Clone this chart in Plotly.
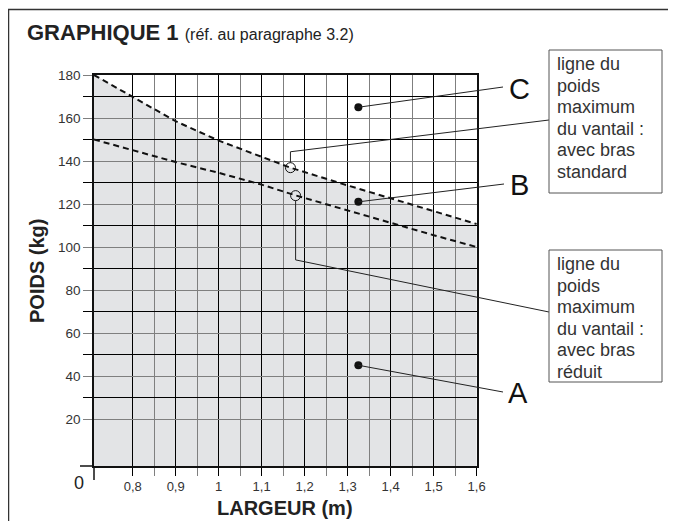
import plotly.graph_objects as go

# ---------------- data ----------------
standard_x = [0.71, 0.8, 0.9, 1.0, 1.1, 1.167, 1.284, 1.4, 1.515, 1.6]
standard_y = [180, 170, 158.5, 149.5, 142, 136.9, 129.6, 122.6, 115.7, 110.7]
reduced_x = [0.71, 0.8, 0.9, 1.0, 1.1, 1.179, 1.3, 1.4, 1.5, 1.6]
reduced_y = [150, 145, 139.5, 134.5, 129, 124, 117, 111, 105.5, 100]

zone_labels = ["C", "B", "A"]
zone_dot_x = [1.325, 1.325, 1.325]
zone_dot_y = [165, 121, 45]

marker_circle_x = [1.167, 1.179]
marker_circle_y = [136.9, 123.9]

x_tick_vals = [0.8, 0.9, 1.0, 1.1, 1.2, 1.3, 1.4, 1.5, 1.6]
x_tick_text = ["0,8", "0,9", "1", "1,1", "1,2", "1,3", "1,4", "1,5", "1,6"]
x_minor_vals = [0.85, 0.95, 1.05, 1.15, 1.25, 1.35, 1.45, 1.55]
y_tick_vals = [20, 40, 60, 80, 100, 120, 140, 160, 180]
y_minor_vals = [30, 50, 70, 90, 110, 130, 150, 170]

box_standard = ["ligne du", "poids", "maximum", "du vantail :", "avec bras", "standard"]
box_reduced = ["ligne du", "poids", "maximum", "du vantail :", "avec bras", "réduit"]

title_main = "GRAPHIQUE 1"
title_sub = "(réf. au paragraphe 3.2)"

# ---------------- layout geometry ----------------
OFF = 8  # page body margin
W, H = 676 - OFF, 521 - OFF
PLOT_L, PLOT_R, PLOT_T, PLOT_B = 94, 477, 75, 466  # window pixels
ML, MR, MT, MB = PLOT_L - OFF, W - (PLOT_R - OFF), PLOT_T - OFF, H - (PLOT_B - OFF)
PW, PH = W - ML - MR, H - MT - MB
XR = [0.71, 1.601]
YR = [-1.86, 180]
FONT = "Liberation Sans, Arial, Helvetica, sans-serif"


def px_x(px):
    return (px - PLOT_L) / PW


def px_y(py):
    return (PLOT_B - py) / PH


def d_x(x):
    return (x - XR[0]) / (XR[1] - XR[0])


def d_y(y):
    return (y - YR[0]) / (YR[1] - YR[0])


fig = go.Figure()

# fill under the standard line (below grid)
path = f"M {standard_x[0]},{YR[0]} " + " ".join(
    f"L {x},{y}" for x, y in zip(standard_x, standard_y)) + f" L {standard_x[-1]},{YR[0]} Z"
shapes = [dict(type="path", path=path, xref="x", yref="y", layer="below",
               fillcolor="#e3e4e6", line=dict(width=0))]

fig.add_trace(go.Scatter(x=standard_x, y=standard_y, mode="lines",
                         line=dict(color="#111", width=2, dash="6px,4px"),
                         hoverinfo="skip", showlegend=False))
fig.add_trace(go.Scatter(x=reduced_x, y=reduced_y, mode="lines",
                         line=dict(color="#111", width=2, dash="6px,4px"),
                         hoverinfo="skip", showlegend=False))
fig.add_trace(go.Scatter(x=zone_dot_x, y=zone_dot_y, mode="markers",
                         marker=dict(color="#111", size=8),
                         hoverinfo="skip", showlegend=False, cliponaxis=False))
fig.add_trace(go.Scatter(x=marker_circle_x, y=marker_circle_y, mode="markers",
                         marker=dict(symbol="circle-open", color="#111", size=10,
                                     line=dict(width=1)),
                         hoverinfo="skip", showlegend=False, cliponaxis=False))

line_style = dict(color="#222", width=1)

# leader lines from dots to letters
label_end_px = [(503, 87), (504, 184), (503, 392)]
label_pos_px = [(519, 89), (519, 185), (518, 393)]
annotations = []
for lab, dx, dy, (ex, ey), (lx, ly) in zip(zone_labels, zone_dot_x, zone_dot_y,
                                           label_end_px, label_pos_px):
    shapes.append(dict(type="line", xref="paper", yref="paper",
                       x0=d_x(dx), y0=d_y(dy), x1=px_x(ex), y1=px_y(ey),
                       line=line_style))
    annotations.append(dict(text=lab, xref="paper", yref="paper",
                            x=px_x(lx), y=px_y(ly), xanchor="center", yanchor="middle",
                            showarrow=False, font=dict(family=FONT, size=29, color="#111")))

# circle leaders to boxes
r_kg = 5 / (PH / (YR[1] - YR[0]))
cx, cy = marker_circle_x[0], marker_circle_y[0]
bend_c = 144.3
shapes.append(dict(type="path", xref="paper", yref="paper",
                   path=f"M {d_x(cx)},{d_y(cy + r_kg)} L {d_x(cx)},{d_y(bend_c)} "
                        f"L {px_x(549)},{px_y(120)}",
                   line=line_style))
cx, cy = marker_circle_x[1], marker_circle_y[1]
bend_b = 94
shapes.append(dict(type="path", xref="paper", yref="paper",
                   path=f"M {d_x(cx)},{d_y(cy - r_kg)} L {d_x(cx)},{d_y(bend_b)} "
                        f"L {px_x(549)},{px_y(312)}",
                   line=line_style))

# boxes
for top, bot, lines in [(50, 193, box_standard), (250, 382, box_reduced)]:
    shapes.append(dict(type="rect", xref="paper", yref="paper",
                       x0=px_x(549), x1=px_x(662), y0=px_y(bot), y1=px_y(top),
                       line=dict(color="#555", width=1)))
    for i, t in enumerate(lines):
        annotations.append(dict(text=t, xref="paper", yref="paper",
                                x=px_x(555), y=px_y(top + 14 + i * 21.6),
                                xanchor="left", yanchor="middle", showarrow=False,
                                font=dict(family=FONT, size=18, color="#333")))

# outer frame (top line clipped to the figure width)
shapes.append(dict(type="path", xref="paper", yref="paper",
                   path=f"M {px_x(8.5)},{px_y(530)} L {px_x(8.5)},{px_y(9.5)} L {px_x(676)},{px_y(9.5)}",
                   line=dict(color="#333", width=1.5)))
# corner extensions at origin
shapes.append(dict(type="line", xref="paper", yref="paper",
                   x0=0, x1=0, y0=0, y1=px_y(480), line=dict(color="#111", width=1.5)))
shapes.append(dict(type="line", xref="paper", yref="paper",
                   x0=px_x(80), x1=0, y0=0, y1=0, line=dict(color="#111", width=1.5)))

# title
annotations.append(dict(
    text=f"<b>{title_main}</b> <span style='font-size:16px'>{title_sub}</span>",
    xref="paper", yref="paper", x=px_x(25), y=px_y(32), xanchor="left", yanchor="middle",
    showarrow=False, font=dict(family=FONT, size=22, color="#222")))
# axis titles
annotations.append(dict(text="<b>POIDS (kg)</b>", xref="paper", yref="paper",
                        x=px_x(37), y=px_y(271), textangle=-90, xanchor="center",
                        yanchor="middle", showarrow=False,
                        font=dict(family=FONT, size=20, color="#222")))
annotations.append(dict(text="<b>LARGEUR (m)</b>", xref="paper", yref="paper",
                        x=px_x(285), y=px_y(508), xanchor="center", yanchor="middle",
                        showarrow=False, font=dict(family=FONT, size=20, color="#222")))
annotations.append(dict(text="0", xref="paper", yref="paper",
                        x=px_x(79), y=px_y(483), xanchor="center", yanchor="middle",
                        showarrow=False, font=dict(family=FONT, size=18, color="#222")))

fig.update_layout(
    width=W, height=H, margin=dict(l=ML, r=MR, t=MT, b=MB, pad=0),
    paper_bgcolor="white", plot_bgcolor="white",
    shapes=shapes, annotations=annotations, showlegend=False,
    font=dict(family=FONT, color="#333"),
    xaxis=dict(range=XR, tickmode="array", tickvals=x_tick_vals, ticktext=x_tick_text,
               ticks="outside", ticklen=8, tickcolor="#000", tickwidth=1.2,
               showgrid=True, gridcolor="#000", gridwidth=1,
               showline=True, linecolor="#111", linewidth=1.5, mirror=True,
               zeroline=False, tickfont=dict(size=13, color="#333"),
               minor=dict(tickmode="array", tickvals=x_minor_vals, ticks="outside",
                          ticklen=8, tickcolor="#7f7f7f", tickwidth=1.4,
                          showgrid=True, gridcolor="#7f7f7f", gridwidth=1.4)),
    yaxis=dict(range=YR, tickmode="array", tickvals=y_tick_vals,
               ticks="outside", ticklen=9, tickcolor="#7f7f7f", tickwidth=1.4,
               showgrid=True, gridcolor="#7f7f7f", gridwidth=1.4,
               showline=True, linecolor="#111", linewidth=1.5, mirror=True,
               zeroline=False, tickfont=dict(size=13.5, color="#333"),
               minor=dict(tickmode="array", tickvals=y_minor_vals, ticks="outside",
                          ticklen=9, tickcolor="#000", tickwidth=1.2,
                          showgrid=True, gridcolor="#000", gridwidth=1)),
)

fig.write_html("out.html", config={"displayModeBar": False},
               post_script="document.documentElement.style.overflow='hidden';"
                           "document.body.style.overflow='hidden';")
